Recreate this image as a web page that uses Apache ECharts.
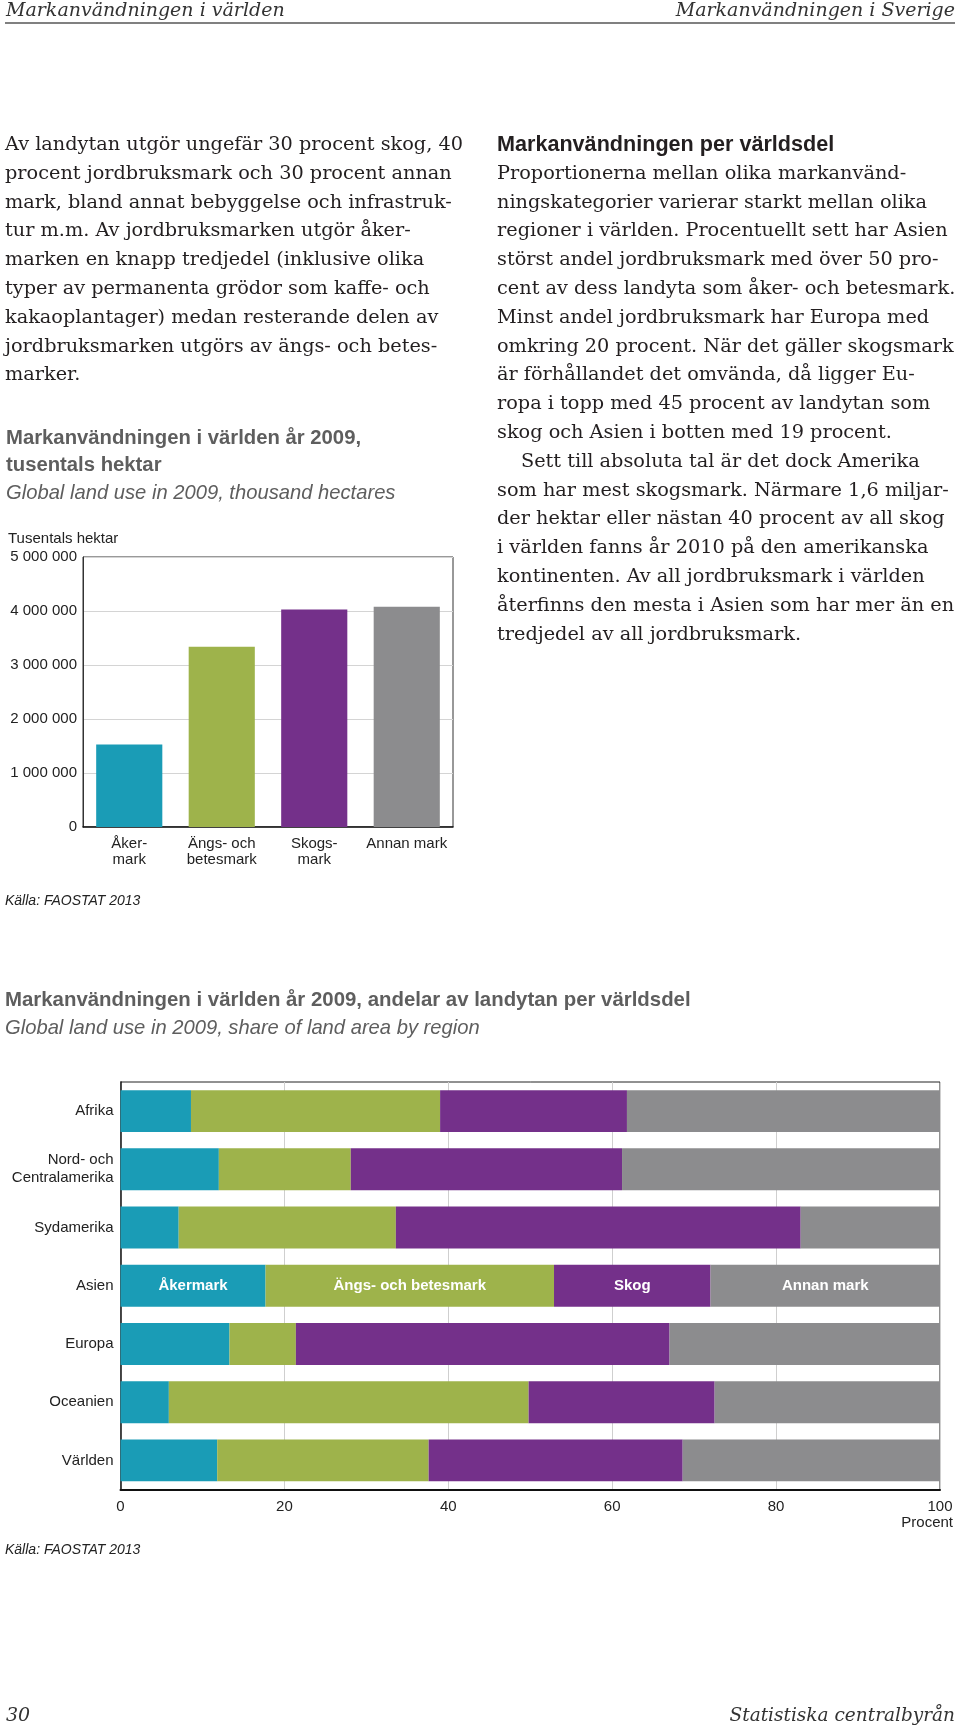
<!DOCTYPE html>
<html><head><meta charset="utf-8">
<script src="https://cdn.jsdelivr.net/npm/echarts@6/dist/echarts.min.js"></script>
<style>html,body{margin:0;padding:0;background:#fff}#c{width:960px;height:1734px}</style>
</head><body><div id="c"></div>
<script>
// ---- data ----
const landCategories = ['Åker-\nmark', 'Ängs- och\nbetesmark', 'Skogs-\nmark', 'Annan mark'];
const landValues = [1530000, 3340000, 4030000, 4080000];
const landTickValues = [0, 1000000, 2000000, 3000000, 4000000, 5000000];

const regions = ['Afrika', 'Nord- och\nCentralamerika', 'Sydamerika', 'Asien', 'Europa', 'Oceanien', 'Världen'];
const akermark = [8.6, 12.0, 7.1, 17.7, 13.3, 5.9, 11.8];
const angsBetesmark = [30.4, 16.1, 26.5, 35.2, 8.1, 43.9, 25.8];
const skog = [22.8, 33.1, 49.4, 19.1, 45.6, 22.7, 31.0];
const annanMark = [38.2, 38.8, 17.0, 28.0, 33.0, 27.5, 31.4];
const shareSeriesNames = ['Åkermark', 'Ängs- och betesmark', 'Skog', 'Annan mark'];
const labelledRegion = 'Asien';
const percentTicks = [0, 20, 40, 60, 80, 100];

const headerLeft = 'Markanvändningen i världen';
const headerRight = 'Markanvändningen i Sverige';
const leftParagraph = [
  'Av landytan utgör ungefär 30 procent skog, 40',
  'procent jordbruksmark och 30 procent annan',
  'mark, bland annat bebyggelse och infrastruk-',
  'tur m.m. Av jordbruksmarken utgör åker-',
  'marken en knapp tredjedel (inklusive olika',
  'typer av permanenta grödor som kaffe- och',
  'kakaoplantager) medan resterande delen av',
  'jordbruksmarken utgörs av ängs- och betes-',
  'marker.'
];
const rightHeading = 'Markanvändningen per världsdel';
const rightParagraph1 = [
  'Proportionerna mellan olika markanvänd-',
  'ningskategorier varierar starkt mellan olika',
  'regioner i världen. Procentuellt sett har Asien',
  'störst andel jordbruksmark med över 50 pro-',
  'cent av dess landyta som åker- och betesmark.',
  'Minst andel jordbruksmark har Europa med',
  'omkring 20 procent. När det gäller skogsmark',
  'är förhållandet det omvända, då ligger Eu-',
  'ropa i topp med 45 procent av landytan som',
  'skog och Asien i botten med 19 procent.'
];
const rightParagraph2 = [
  'Sett till absoluta tal är det dock Amerika',
  'som har mest skogsmark. Närmare 1,6 miljar-',
  'der hektar eller nästan 40 procent av all skog',
  'i världen fanns år 2010 på den amerikanska',
  'kontinenten. Av all jordbruksmark i världen',
  'återfinns den mesta i Asien som har mer än en',
  'tredjedel av all jordbruksmark.'
];
const chart1Title = ['Markanvändningen i världen år 2009,', 'tusentals hektar'];
const chart1Subtitle = 'Global land use in 2009, thousand hectares';
const chart1Unit = 'Tusentals hektar';
const chart2Title = 'Markanvändningen i världen år 2009, andelar av landytan per världsdel';
const chart2Subtitle = 'Global land use in 2009, share of land area by region';
const axisUnit2 = 'Procent';
const sourceText = 'Källa: FAOSTAT 2013';
const pageNumber = '30';
const publisher = 'Statistiska centralbyrån';

// ---- style ----
const COLORS = ['#1a9cb6', '#9eb34b', '#74308a', '#8c8c8e'];
const SANS = '"Liberation Sans", Arial, sans-serif';
const SERIF = '"DejaVu Serif", serif';
const TXT = '#231f20';
const TITLE = '#5e5e5e';

function txt(x, y, text, font, fill, align) {
  return {
    type: 'text', x: x, y: y, silent: true,
    style: { text: text, font: font, fill: fill || TXT,
      align: align || 'left', textAlign: align || 'left',
      verticalAlign: 'middle', textVerticalAlign: 'middle' }
  };
}

const graphics = [];
graphics.push(txt(6, 11, headerLeft, 'italic 19px ' + SERIF, '#333'));
graphics.push(txt(955, 11, headerRight, 'italic 19px ' + SERIF, '#333', 'right'));
graphics.push({ type: 'line', silent: true, shape: { x1: 5, y1: 23, x2: 955, y2: 23 }, style: { stroke: '#808080', lineWidth: 2 } });

const LH = 28.8;
const BODY = '19.3px ' + SERIF;
leftParagraph.forEach((l, i) => graphics.push(txt(5, 145 + LH * i, l, BODY)));
graphics.push(txt(497, 145, rightHeading, 'bold 21.6px ' + SANS));
rightParagraph1.forEach((l, i) => graphics.push(txt(497, 145 + LH * (i + 1), l, BODY)));
rightParagraph2.forEach((l, i) => graphics.push(txt(i === 0 ? 521 : 497, 145 + LH * (i + 11), l, BODY)));

graphics.push(txt(6, 438, chart1Title[0], 'bold 20.3px ' + SANS, TITLE));
graphics.push(txt(6, 465, chart1Title[1], 'bold 20.3px ' + SANS, TITLE));
graphics.push(txt(6, 493, chart1Subtitle, 'italic 20.2px ' + SANS, TITLE));
graphics.push(txt(8, 539, chart1Unit, '15px ' + SANS, '#222'));
graphics.push(txt(5, 901, sourceText, 'italic 14px ' + SANS, '#222'));

graphics.push(txt(5, 1000, chart2Title, 'bold 20.4px ' + SANS, TITLE));
graphics.push(txt(5, 1028, chart2Subtitle, 'italic 20.2px ' + SANS, TITLE));
graphics.push(txt(953, 1523, axisUnit2, '15px ' + SANS, '#222', 'right'));
graphics.push(txt(5, 1550, sourceText, 'italic 14px ' + SANS, '#222'));

graphics.push(txt(6, 1716, pageNumber, 'italic 19px ' + SERIF, '#333'));
graphics.push(txt(955, 1716, publisher, 'italic 18.5px ' + SERIF, '#333', 'right'));

function spaced(v) { return String(v).replace(/\B(?=(\d{3})+(?!\d))/g, ' '); }

const shareData = [akermark, angsBetesmark, skog, annanMark];

const option = {
  animation: false,
  backgroundColor: '#fff',
  textStyle: { fontFamily: SANS },
  graphic: graphics,
  grid: [
    { left: 83, top: 557, width: 370, height: 270, show: true, borderColor: '#333', borderWidth: 1, containLabel: false },
    { left: 120.5, top: 1082, width: 819.5, height: 407.5, show: true, borderColor: '#222', borderWidth: 1, containLabel: false }
  ],
  xAxis: [
    { type: 'category', gridIndex: 0, data: landCategories,
      axisTick: { show: false },
      axisLine: { lineStyle: { color: '#111', width: 1.5 } },
      axisLabel: { fontSize: 15, color: '#222', lineHeight: 16, margin: 9, interval: 0, fontFamily: SANS } },
    { type: 'value', gridIndex: 1, min: 0, max: 100, interval: 20,
      axisTick: { show: false },
      axisLine: { show: true, lineStyle: { color: '#111', width: 2 } },
      splitLine: { show: true, lineStyle: { color: '#cfcfcf', width: 1 } },
      axisLabel: { fontSize: 15, color: '#222', margin: 10, fontFamily: SANS,
        formatter: v => percentTicks.indexOf(v) >= 0 ? String(v) : '' } }
  ],
  yAxis: [
    { type: 'value', gridIndex: 0, min: 0, max: 5000000, interval: 1000000,
      axisTick: { show: false },
      axisLine: { show: true, lineStyle: { color: '#333', width: 1 } },
      splitLine: { show: true, lineStyle: { color: '#d4d4d4', width: 1 } },
      axisLabel: { fontSize: 15, color: '#222', margin: 6, fontFamily: SANS,
        formatter: v => landTickValues.indexOf(v) >= 0 ? spaced(v) : '' } },
    { type: 'category', gridIndex: 1, data: regions, inverse: true,
      axisTick: { show: false },
      axisLine: { show: true, lineStyle: { color: '#111', width: 1.5 } },
      axisLabel: { fontSize: 15, color: '#222', lineHeight: 18, margin: 7, fontFamily: SANS } }
  ],
  series: [
    { type: 'bar', xAxisIndex: 0, yAxisIndex: 0, barCategoryGap: '28.5%',
      data: landValues.map((v, i) => ({ value: v, itemStyle: { color: COLORS[i] } })) }
  ].concat(shareData.map((arr, si) => ({
    type: 'bar', name: shareSeriesNames[si], xAxisIndex: 1, yAxisIndex: 1, stack: 'share',
    barCategoryGap: '28%',
    itemStyle: { color: COLORS[si] },
    label: { show: true, position: 'inside', color: '#fff', fontWeight: 'bold', fontSize: 15, fontFamily: SANS,
      formatter: p => regions[p.dataIndex] === labelledRegion ? p.seriesName : '' },
    data: arr
  })))
};

const chart = echarts.init(document.getElementById('c'), null, { renderer: 'canvas', width: 960, height: 1734 });
chart.setOption(option);
</script>
</body></html>
